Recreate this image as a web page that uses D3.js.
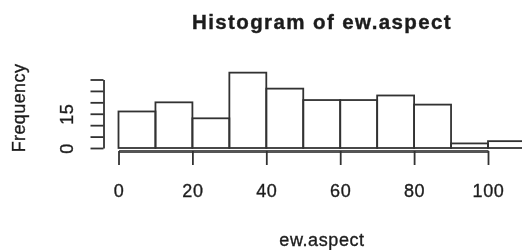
<!DOCTYPE html>
<html>
<head>
<meta charset="utf-8">
<script src="https://cdn.jsdelivr.net/npm/d3@7"></script>
<style>
  html, body { margin: 0; padding: 0; background: #fff; }
  svg { display: block; }
</style>
</head>
<body>
<svg id="chart" width="522" height="250"></svg>
<script>
// ---- data ----
const binStarts = [0, 10, 20, 30, 40, 50, 60, 70, 80, 90, 100];
const binWidth = 10;
const counts = [16, 20, 13, 33, 26, 21, 21, 23, 19, 2, 3];
const xTicks = [0, 20, 40, 60, 80, 100];
const yTicks = [0, 5, 10, 15, 20, 25, 30];
const yTickLabels = ["0", "", "", "15", "", "", ""];
const titleText = "Histogram of ew.aspect";
const xLabel = "ew.aspect";
const yLabel = "Frequency";

const svg = d3.select("#chart");
const defs = svg.append("defs");
defs.append("filter").attr("id", "soft")
  .attr("x", "-5%").attr("y", "-5%").attr("width", "110%").attr("height", "110%")
  .append("feGaussianBlur").attr("stdDeviation", 0.6);

const g = svg.append("g").attr("filter", "url(#soft)");

const x = d3.scaleLinear().domain([0, 100]).range([118.5, 488]);
const y = d3.scaleLinear().domain([0, 30]).range([148, 79.5]);

const font = "'Liberation Sans', Arial, Helvetica, sans-serif";
const ink = "#333";
const textInk = "#1e1e1e";

// bars
g.append("g").selectAll("rect")
  .data(binStarts.map((s, i) => ({ s, c: counts[i] })))
  .join("rect")
  .attr("x", d => x(d.s))
  .attr("width", d => x(d.s + binWidth) - x(d.s))
  .attr("y", d => y(d.c))
  .attr("height", d => y(0) - y(d.c))
  .attr("fill", "none")
  .attr("stroke", ink)
  .attr("stroke-width", 1.8);

// x axis
const xAxis = g.append("g")
  .attr("transform", "translate(0,151)")
  .call(d3.axisBottom(x).tickValues(xTicks).tickSize(14).tickPadding(19).tickSizeOuter(0)
    .tickFormat(d3.format("d")));
xAxis.select(".domain").attr("stroke", "#555").attr("stroke-width", 3);
xAxis.selectAll(".tick line").attr("stroke", ink).attr("stroke-width", 1.8);
xAxis.selectAll(".tick text")
  .attr("fill", textInk)
  .attr("stroke", textInk).attr("stroke-width", 0.35)
  .style("font-family", font)
  .style("font-size", "18px")
  .style("letter-spacing", "0.6px");

// y axis
const yAxis = g.append("g")
  .attr("transform", "translate(103.5,0)")
  .call(d3.axisLeft(y).tickValues(yTicks).tickSize(13).tickSizeOuter(0)
    .tickFormat((d, i) => yTickLabels[i]));
yAxis.select(".domain").attr("stroke", ink).attr("stroke-width", 1.8);
yAxis.selectAll(".tick line").attr("stroke", ink).attr("stroke-width", 1.8);
yAxis.selectAll(".tick text")
  .attr("transform", "rotate(-90)")
  .attr("x", 0)
  .attr("y", -31)
  .attr("dy", 0)
  .attr("fill", textInk)
  .attr("stroke", textInk).attr("stroke-width", 0.35)
  .style("text-anchor", "middle")
  .style("font-family", font)
  .style("font-size", "18px")
  .style("letter-spacing", "0.6px");

// title
g.append("text")
  .attr("x", 322).attr("y", 28.5)
  .attr("text-anchor", "middle")
  .attr("fill", textInk)
  .attr("stroke", textInk).attr("stroke-width", 0.4)
  .style("font-family", font)
  .style("font-weight", "bold")
  .style("font-size", "20.5px")
  .style("letter-spacing", "1.4px")
  .text(titleText);

// x label
g.append("text")
  .attr("x", 322).attr("y", 246)
  .attr("text-anchor", "middle")
  .attr("fill", textInk)
  .attr("stroke", textInk).attr("stroke-width", 0.35)
  .style("font-family", font)
  .style("font-size", "18px")
  .style("letter-spacing", "0.6px")
  .text(xLabel);

// y label
g.append("text")
  .attr("transform", "translate(25,108) rotate(-90)")
  .attr("text-anchor", "middle")
  .attr("fill", textInk)
  .attr("stroke", textInk).attr("stroke-width", 0.35)
  .style("font-family", font)
  .style("font-size", "18px")
  .style("letter-spacing", "0.4px")
  .text(yLabel);
</script>
</body>
</html>
